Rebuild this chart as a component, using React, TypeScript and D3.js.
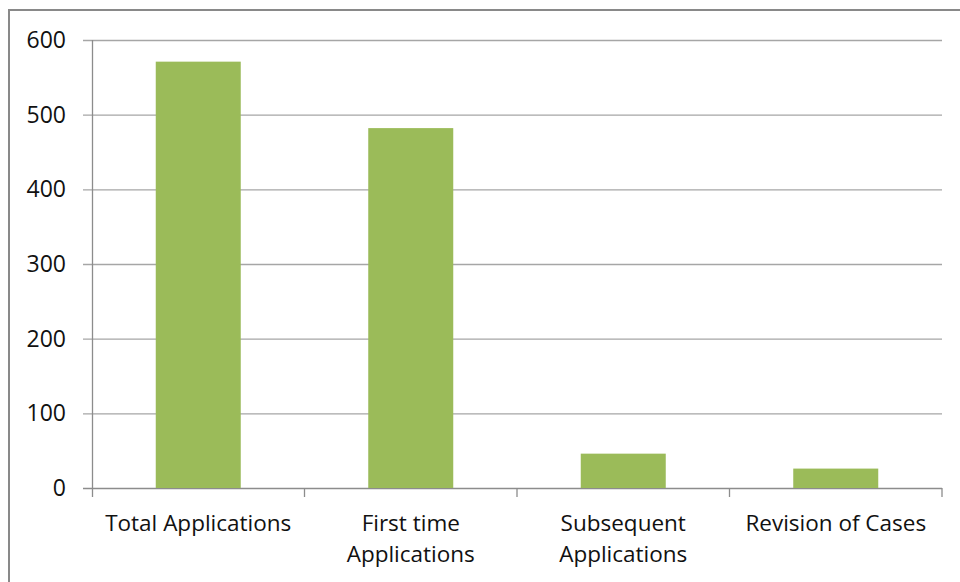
import React from "react";
import * as d3 from "d3";

const categories = ["Total Applications", "First time Applications", "Subsequent Applications", "Revision of Cases"];
const categoryLines = [["Total Applications"], ["First time", "Applications"], ["Subsequent", "Applications"], ["Revision of Cases"]];
const values = [571, 482, 46, 26];
const yTicks = [0, 100, 200, 300, 400, 500, 600];

const W = 960, H = 582;
const left = 92, right = 942, top = 40, bottom = 488;

export default function App() {
  const x = d3.scaleBand<string>().domain(categories).range([left, right]).paddingInner(0.6).paddingOuter(0.3);
  const xStep = (right - left) / categories.length;
  const y = d3.scaleLinear().domain([0, 600]).range([bottom, top]);
  const font = "'Open Sans', sans-serif";
  return (
    <svg width={W} height={H} style={{ position: "absolute", left: 0, top: 0, background: "#fff" }}>
      <rect x={9} y={10} width={W} height={H} fill="#fff" stroke="#898989" strokeWidth={2} />
      {yTicks.map((t) => (
        <g key={t}>
          <line x1={left - 9} x2={right} y1={y(t) + 0.5} y2={y(t) + 0.5} stroke={t === 0 ? "#8c8c8c" : "#a6a6a6"} strokeWidth={1.3} />
          <text x={66} y={y(t) + 8} textAnchor="end" fontFamily={font} fontSize={23} fill="#111">{t}</text>
        </g>
      ))}
      <line x1={left + 0.5} x2={left + 0.5} y1={top} y2={bottom + 9} stroke="#8c8c8c" strokeWidth={1.3} />
      {categories.map((c, i) => (
        <line key={"tk" + i} x1={left + xStep * (i + 1)} x2={left + xStep * (i + 1)} y1={bottom} y2={bottom + 9} stroke="#8c8c8c" strokeWidth={1.3} />
      ))}
      {categories.map((c, i) => (
        <rect key={c} x={x(c)} y={y(values[i])} width={x.bandwidth()} height={bottom - y(values[i])} fill="#9BBB59" />
      ))}
      {categories.map((c, i) => (
        <text key={"l" + c} x={(x(c) as number) + x.bandwidth() / 2} y={531} textAnchor="middle" fontFamily={font} fontSize={22.5} fill="#111">
          {categoryLines[i].map((ln, j) => (
            <tspan key={j} x={(x(c) as number) + x.bandwidth() / 2} dy={j === 0 ? 0 : 31}>{ln}</tspan>
          ))}
        </text>
      ))}
    </svg>
  );
}
